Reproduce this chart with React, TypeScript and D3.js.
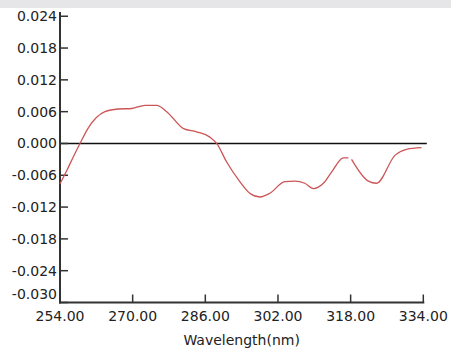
import React, { useEffect, useRef } from "react";
import * as d3 from "d3";

const W = 451;
const H = 348;

// (nm, value); null marks the break in the trace
const wavelength = [
  254.0, 255.5, 257.0, 258.4, 260.2, 263.9, 266.8, 269.8, 272.7, 275.3, 277.5,
  281.2, 284.1, 287.0, 288.5, 290.7, 293.6, 295.8, 298.0, 300.2, 303.5,
  305.7, 307.9, 309.8, 312.0, 313.8, 316.4, 317.5, 317.9, 318.2, 321.9,
  323.7, 327.8, 330.3, 333.6,
];
const signal: (number | null)[] = [
  -0.0076, -0.0051, -0.0024, 0.0, 0.0029, 0.006, 0.0065, 0.0066, 0.0072, 0.0072, 0.006,
  0.0028, 0.0022, 0.0012, 0.0, -0.0035, -0.0072, -0.0094, -0.0101, -0.0094, -0.0072,
  -0.0071, -0.0075, -0.0085, -0.0075, -0.0054, -0.0027, -0.0027, null, -0.003, -0.0071,
  -0.0075, -0.0022, -0.0011, -0.0008,
];
const xTicks = [254, 270, 286, 302, 318, 334];
const yTicks = [0.024, 0.018, 0.012, 0.006, 0, -0.006, -0.012, -0.018, -0.024, -0.03];

export default function App() {
  const svgRef = useRef<SVGSVGElement>(null);

  useEffect(() => {
    const svg = d3.select(svgRef.current);
    svg.selectAll("*").remove();

    const left = 60;
    const right = 423.3;
    const top = 12;
    const bottom = 302.5;

    const x = d3.scaleLinear().domain([254, 334]).range([left, right]);
    const y = d3.scaleLinear().domain([-0.03, 0.0248]).range([bottom, top]);

    const font = "'DejaVu Sans', Verdana, sans-serif";
    const textColor = "#222";
    const fmtY = (v: number) => d3.format(".3f")(v).replace("\u2212", "-");

    // grey strip at the top
    svg.append("rect").attr("x", 0).attr("y", 0).attr("width", W).attr("height", 8).attr("fill", "#e6e6e8");

    // zero line
    svg
      .append("line")
      .attr("x1", left)
      .attr("x2", right + 3.5)
      .attr("y1", y(0))
      .attr("y2", y(0))
      .attr("stroke", "#111")
      .attr("stroke-width", 1.4);

    // y axis
    svg
      .append("line")
      .attr("x1", left)
      .attr("x2", left)
      .attr("y1", top)
      .attr("y2", bottom + 1)
      .attr("stroke", "#333")
      .attr("stroke-width", 2);

    yTicks.forEach((t) => {
      svg
        .append("line")
        .attr("x1", left)
        .attr("x2", left + 8)
        .attr("y1", y(t))
        .attr("y2", y(t))
        .attr("stroke", "#333")
        .attr("stroke-width", 1.5);
      svg
        .append("text")
        .attr("x", left - 3)
        .attr("y", Math.min(y(t), bottom - 8))
        .attr("dy", "0.35em")
        .attr("text-anchor", "end")
        .attr("font-family", font)
        .attr("font-size", 14)
        .attr("fill", textColor)
        .text(fmtY(t));
    });

    // x axis
    svg
      .append("line")
      .attr("x1", left - 1)
      .attr("x2", right + 1)
      .attr("y1", bottom)
      .attr("y2", bottom)
      .attr("stroke", "#333")
      .attr("stroke-width", 2);

    xTicks.forEach((t) => {
      svg
        .append("line")
        .attr("x1", x(t))
        .attr("x2", x(t))
        .attr("y1", bottom)
        .attr("y2", bottom - 8)
        .attr("stroke", "#333")
        .attr("stroke-width", 1.5);
      svg
        .append("text")
        .attr("x", x(t))
        .attr("y", bottom + 14)
        .attr("dy", "0.35em")
        .attr("text-anchor", "middle")
        .attr("font-family", font)
        .attr("font-size", 14)
        .attr("fill", textColor)
        .text(d3.format(".2f")(t));
    });

    svg
      .append("text")
      .attr("x", (left + right) / 2)
      .attr("y", 340)
      .attr("dy", "0.35em")
      .attr("text-anchor", "middle")
      .attr("font-family", font)
      .attr("font-size", 14)
      .attr("fill", textColor)
      .text("Wavelength(nm)");

    // trace
    const pts = wavelength.map((w, i) => ({ w, v: signal[i] }));
    const line = d3
      .line<{ w: number; v: number | null }>()
      .defined((d) => d.v !== null)
      .x((d) => x(d.w))
      .y((d) => y(d.v as number))
      .curve(d3.curveMonotoneX);

    svg
      .append("path")
      .datum(pts)
      .attr("fill", "none")
      .attr("stroke", "#cc5555")
      .attr("stroke-width", 1.3)
      .attr("d", line);
  }, []);

  return (
    <div style={{ position: "fixed", left: 0, top: 0, background: "#fff" }}>
      <svg ref={svgRef} width={W} height={H} style={{ display: "block" }} />
    </div>
  );
}
